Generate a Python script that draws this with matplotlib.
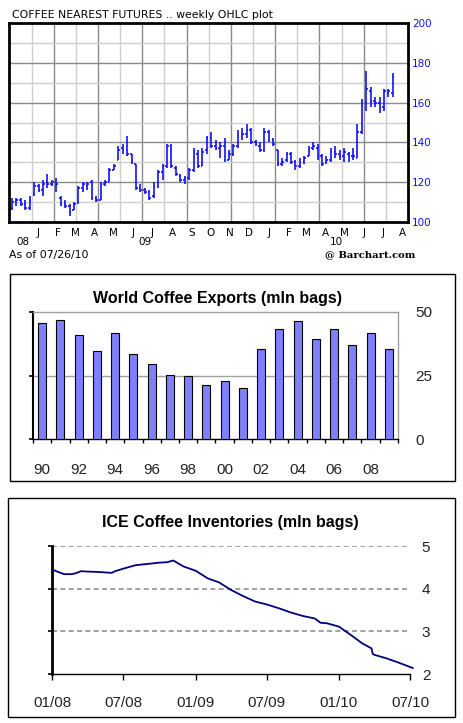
import numpy as np
import pandas as pd
import matplotlib
matplotlib.use("Agg")
import matplotlib.pyplot as plt
import matplotlib.dates as mdates
from matplotlib.patches import Rectangle
from matplotlib.ticker import FuncFormatter, FixedLocator

W, H = 464, 723

# --- weekly OHLC, coffee nearest futures (Nov 2008 - Jul 2010) ---
ohlc_start = "2008-11-21"
opens = [107, 110, 111, 109, 107, 114, 118, 116, 120, 119, 120, 112, 109, 108, 106, 110,
         117, 118, 120, 112, 111, 119, 120, 126, 131, 137, 136, 134, 129, 117, 116, 115,
         113, 118, 125, 128, 138, 127, 123, 121, 122, 126, 134, 128, 136, 142, 138, 137,
         138, 131, 134, 138, 143, 144, 146, 140, 138, 136, 145, 141, 136, 129, 131, 134,
         130, 128, 130, 133, 137, 137, 133, 130, 131, 135, 134, 133, 134, 133, 132, 145,
         160, 166, 161, 160, 158, 165, 165]
highs = [112, 112, 112, 111, 113, 120, 119, 121, 124, 121, 122, 113, 111, 109, 110, 118,
         120, 120, 121, 113, 120, 121, 127, 129, 138, 139, 143, 134, 129, 119, 117, 116,
         120, 126, 129, 139, 139, 128, 124, 123, 127, 137, 136, 137, 143, 145, 141, 140,
         142, 136, 139, 146, 147, 149, 147, 141, 140, 147, 146, 142, 136, 132, 135, 135,
         131, 132, 133, 138, 140, 139, 134, 133, 137, 138, 136, 137, 135, 137, 149, 162,
         176, 168, 163, 163, 167, 167, 175]
lows = [106, 108, 108, 106, 106, 113, 115, 113, 117, 118, 115, 108, 107, 103, 106, 109,
        115, 116, 111, 110, 111, 118, 120, 126, 131, 134, 133, 129, 116, 115, 114, 111,
        112, 117, 121, 127, 127, 123, 120, 119, 121, 125, 127, 128, 134, 137, 136, 132,
        130, 131, 133, 137, 141, 142, 139, 138, 135, 135, 140, 138, 128, 128, 130, 129,
        126, 127, 129, 133, 136, 131, 128, 129, 130, 132, 131, 130, 130, 131, 132, 144,
        156, 158, 158, 155, 156, 163, 163]
closes = [110, 111, 109, 107, 111, 118, 116, 119, 119, 120, 119, 109, 108, 105, 109, 117,
          119, 119, 112, 111, 119, 120, 126, 128, 136, 136, 134, 130, 117, 116, 115, 112,
          118, 125, 128, 138, 128, 124, 121, 122, 126, 135, 128, 135, 142, 138, 137, 138,
          131, 134, 138, 143, 144, 146, 140, 139, 136, 145, 141, 139, 129, 130, 134, 130,
          128, 130, 132, 137, 138, 133, 129, 131, 135, 134, 133, 135, 133, 133, 145, 160,
          167, 161, 160, 158, 166, 166, 173]

month_letters = "JFMAMJJASOND"
month_ticks = pd.date_range("2009-01-01", "2010-08-01", freq="MS")
year_labels = ["08", "09", "10"]
year_label_dates = ["2008-12-09", "2009-06-19", "2010-04-18"]

# --- world coffee exports ---
export_years = ["90", "91", "92", "93", "94", "95", "96", "97", "98", "99",
                "00", "01", "02", "03", "04", "05", "06", "07", "08", "09"]
exports = [45.7, 46.7, 40.9, 34.6, 41.6, 33.3, 29.4, 25.2, 24.7, 21.1,
           23.0, 20.1, 35.2, 43.2, 46.2, 39.2, 43.2, 36.8, 41.6, 35.2]

# --- ICE coffee inventories ---
inv_dates = ["2008-01-01", "2008-01-20", "2008-02-01", "2008-02-20", "2008-03-01", "2008-03-15",
             "2008-04-01", "2008-05-01", "2008-06-01", "2008-06-10", "2008-07-01", "2008-08-01",
             "2008-09-01", "2008-10-01", "2008-10-20", "2008-11-05", "2008-12-01", "2009-01-01",
             "2009-02-01", "2009-03-01", "2009-04-01", "2009-05-01", "2009-06-01", "2009-07-01",
             "2009-08-01", "2009-09-01", "2009-10-01", "2009-11-01", "2009-11-15", "2009-12-01",
             "2010-01-01", "2010-02-01", "2010-03-01", "2010-03-25", "2010-03-28", "2010-04-01",
             "2010-05-01", "2010-06-01", "2010-07-08"]
inventories = [4.45, 4.38, 4.34, 4.34, 4.36, 4.41, 4.40, 4.39, 4.37, 4.41, 4.47, 4.55,
               4.58, 4.61, 4.62, 4.66, 4.52, 4.42, 4.24, 4.15, 3.97, 3.83, 3.70, 3.63,
               3.54, 3.44, 3.36, 3.30, 3.20, 3.19, 3.11, 2.91, 2.72, 2.60, 2.47, 2.45,
               2.37, 2.27, 2.14]


def rect(l, t, r, b):
    return [l / W, 1 - b / H, (r - l) / W, (b - t) / H]


fig = plt.figure(figsize=(W / 100, H / 100), dpi=100)
fig.patch.set_facecolor("white")

# ================= panel 1: OHLC =================
blue = "#1010ff"
ax1 = fig.add_axes(rect(9.5, 23, 408, 222))
x0 = mdates.date2num(pd.Timestamp("2008-11-17"))
ax1.set_xlim(x0, x0 + 630)
ax1.set_ylim(100, 200)
for k in range(1, 18):
    ax1.axvline(x0 + 35 * k, color="#8a8a8a" if k % 2 == 0 else "#cfcfcf", lw=1, zorder=0)
for v in range(110, 200, 10):
    ax1.axhline(v, color="#8a8a8a" if v % 20 == 0 else "#cfcfcf", lw=1, zorder=0)

d = mdates.date2num(pd.date_range(ohlc_start, periods=len(opens), freq="7D"))
ax1.vlines(d, lows, highs, color=blue, lw=1.2)
ax1.hlines(opens, d - 2.6, d, color=blue, lw=1.2)
ax1.hlines(closes, d, d + 2.6, color=blue, lw=1.2)

for s in ax1.spines.values():
    s.set_linewidth(2)
    s.set_color("black")
ax1.yaxis.tick_right()
ax1.set_yticks(range(100, 201, 20))
ax1.tick_params(axis="y", length=0, pad=3, labelcolor=blue, labelsize=7.5)
ax1.set_xticks(mdates.date2num(month_ticks))
ax1.set_xticklabels([month_letters[m.month - 1] for m in month_ticks])
ax1.tick_params(axis="x", length=0, pad=4, labelsize=7.5)
for lab, dt in zip(year_labels, year_label_dates):
    ax1.annotate(lab, xy=(mdates.date2num(pd.Timestamp(dt)), 0), xycoords=("data", "axes fraction"),
                 xytext=(0, -20), textcoords="offset pixels", ha="center", va="center", fontsize=7.5)

fig.text(12 / W, 1 - 15 / H, "COFFEE NEAREST FUTURES .. weekly OHLC plot", fontsize=7.8,
         ha="left", va="center")
fig.text(9 / W, 1 - 255 / H, "As of 07/26/10", fontsize=7.8, ha="left", va="center")
fig.text(325 / W, 1 - 255 / H, "@ Barchart.com", fontsize=7.2, ha="left", va="center",
         family="DejaVu Serif", weight="bold")

# ================= panel 2: exports =================
fig.patches.append(Rectangle((10 / W, 1 - 480.5 / H), 445.5 / W, 206.5 / H,
                             transform=fig.transFigure, fill=False, ec="black", lw=1))
ax2 = fig.add_axes(rect(33, 311.7, 398, 439.3))
xs = np.arange(len(exports))
ax2.bar(xs, exports, width=0.45, color="#8080ff", edgecolor="black", lw=0.8, zorder=3)
ax2.set_xlim(-0.5, len(exports) - 0.5)
ax2.set_ylim(0, 50)
ax2.axhline(25, color="#a0a0a0", lw=1, zorder=1)
for side in ["top", "right"]:
    ax2.spines[side].set_color("#a0a0a0")
    ax2.spines[side].set_linewidth(1)
ax2.spines["left"].set_linewidth(1.5)
ax2.spines["bottom"].set_linewidth(1)
ax2.set_yticks([0, 25, 50])
ax2.tick_params(axis="y", left=True, right=False, labelleft=False, labelright=True,
                length=3, width=1.2, pad=9.5, labelsize=11, labelcolor="#222222")
ax2.set_xticks(xs[::2])
ax2.set_xticklabels(export_years[::2])
ax2.xaxis.set_minor_locator(FixedLocator(np.arange(-0.5, len(exports), 1.0)))
ax2.tick_params(axis="x", which="major", length=0, pad=17, labelsize=11, labelcolor="#222222")
ax2.tick_params(axis="x", which="minor", length=3, width=1)
fig.text(218 / W, 1 - 299 / H, "World Coffee Exports (mln bags)", fontsize=11.5,
         family="Liberation Sans", weight="bold", ha="center", va="center")
for t in ax2.get_xticklabels() + ax2.get_yticklabels():
    t.set_family("Liberation Sans")

# ================= panel 3: inventories =================
fig.patches.append(Rectangle((8.5 / W, 1 - 717 / H), 447 / W, 219 / H,
                             transform=fig.transFigure, fill=False, ec="black", lw=1))
ax3 = fig.add_axes(rect(52, 546, 410, 674))
idates = mdates.date2num(pd.to_datetime(inv_dates))
ax3.plot(idates, inventories, color="#000080", lw=1.3, clip_on=False, zorder=3)
ax3.set_xlim(mdates.date2num(pd.Timestamp("2008-01-01")), mdates.date2num(pd.Timestamp("2010-07-01")))
ax3.set_ylim(2, 5)
for v in [3, 4, 5]:
    ax3.axhline(v, color="#909090", lw=1.2, ls=(0, (3, 2)), zorder=1)
ax3.spines["top"].set_visible(False)
ax3.spines["right"].set_visible(False)
ax3.spines["left"].set_linewidth(2)
ax3.spines["bottom"].set_linewidth(1)
ax3.set_yticks([2, 3, 4, 5])
ax3.tick_params(axis="y", left=True, right=False, labelleft=False, labelright=True,
                length=3, width=1.2, pad=5.5, labelsize=11, labelcolor="#222222")
xt = pd.date_range("2008-01-01", "2010-07-01", freq="6MS")
ax3.set_xticks(mdates.date2num(xt))
ax3.set_xticklabels([t.strftime("%m/%y") for t in xt])
ax3.tick_params(axis="x", length=4, width=1, pad=12, labelsize=11, labelcolor="#222222")
fig.text(230 / W, 1 - 522 / H, "ICE Coffee Inventories (mln bags)", fontsize=11.5,
         family="Liberation Sans", weight="bold", ha="center", va="center")
for t in ax3.get_xticklabels() + ax3.get_yticklabels():
    t.set_family("Liberation Sans")

fig.savefig("out.png", dpi=100)
